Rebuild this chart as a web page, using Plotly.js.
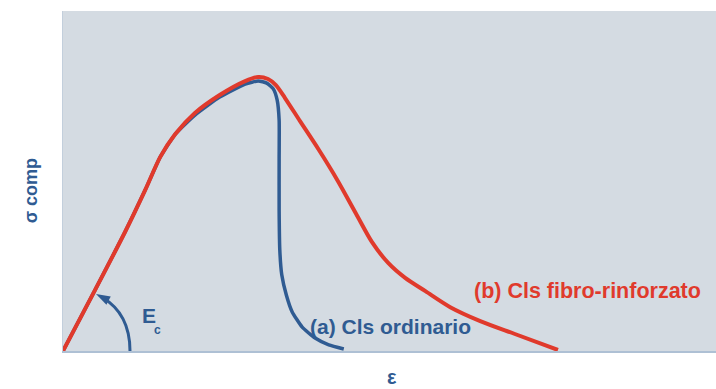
<!DOCTYPE html>
<html>
<head>
<meta charset="utf-8">
<script src="https://cdn.plot.ly/plotly-3.0.1.min.js"></script>
<style>
  html, body { margin: 0; padding: 0; background: #ffffff; }
  #chart { width: 716px; height: 389px; }
</style>
</head>
<body>
<div id="chart"></div>
<script>
// Compressive stress-strain curves (normalised units, 0-100 on both axes)

// (b) fibre-reinforced concrete
const fibreStrain = [0, 4.9, 9.5, 12.6, 14.9, 17.2, 20.2, 24.0, 27.9, 29.9, 31.4, 32.6, 34.0, 36.3, 39.1, 42.0, 44.9, 47.3, 49.8, 52.4, 55.5, 59.3, 63.9, 69.2, 75.8];
const fibreStress = [0, 17.9, 35.0, 47.4, 57.1, 63.8, 70.0, 75.3, 79.4, 80.6, 80.0, 78.2, 74.4, 67.6, 59.4, 50.3, 40.3, 32.1, 25.9, 21.5, 17.6, 12.9, 8.8, 5.0, 0.3];

// (a) ordinary concrete
const plainStrain = [0, 4.9, 9.5, 12.6, 14.9, 17.2, 20.2, 24.0, 27.9, 29.9, 31.2, 32.2, 32.8, 33.1, 33.1, 33.1, 33.2, 33.5, 34.2, 35.1, 36.6, 38.6, 40.7, 43.0];
const plainStress = [0, 17.9, 35.0, 47.4, 57.1, 63.8, 69.4, 74.7, 78.5, 79.4, 78.8, 77.1, 73.8, 67.9, 56.2, 41.5, 29.7, 22.4, 16.5, 11.5, 7.1, 3.8, 1.8, 0.6];

// Elastic modulus marker: arc from the strain axis up to the initial tangent
const modulusArcStart = [10.26, 0];
const modulusArcCtrl = [10.26, 11.0];
const modulusArcEnd = [5.05, 16.8];

const axisTitles = { x: 'ε', y: 'σ comp' };
const seriesLabels = { plain: '(a) Cls ordinario', fibre: '(b) Cls fibro-rinforzato' };
const modulusSymbol = 'E';
const modulusIndex = 'c';

const BLUE = '#2f5b92';
const RED = '#e03a2c';
const FONT = 'Liberation Sans, Arial, sans-serif';

const traces = [
  {
    x: plainStrain, y: plainStress, mode: 'lines',
    line: { color: BLUE, width: 3.5, shape: 'spline', smoothing: 0.5 },
    hoverinfo: 'skip', showlegend: false
  },
  {
    x: fibreStrain, y: fibreStress, mode: 'lines',
    line: { color: RED, width: 4, shape: 'spline', smoothing: 0.8 },
    hoverinfo: 'skip', showlegend: false
  },
  {
    // arrowhead at the end of the modulus arc
    x: [modulusArcEnd[0]], y: [modulusArcEnd[1]], mode: 'markers',
    marker: { symbol: 'arrow', size: 15, angle: -62, color: BLUE, line: { width: 0 } },
    hoverinfo: 'skip', showlegend: false
  }
];

const layout = {
  width: 716, height: 389,
  margin: { l: 63, r: 0, t: 11, b: 38, pad: 0 },
  paper_bgcolor: '#ffffff',
  plot_bgcolor: '#d4dbe2',
  font: { family: FONT, color: BLUE },
  xaxis: {
    range: [0, 100], showgrid: false, zeroline: false, showticklabels: false, ticks: '',
    showline: true, linecolor: '#aec0d4', linewidth: 1.5
  },
  yaxis: {
    range: [0, 100], showgrid: false, zeroline: false, showticklabels: false, ticks: '',
    showline: true, linecolor: '#c3cfdc', linewidth: 1
  },
  shapes: [
    {
      type: 'path', xref: 'x', yref: 'y',
      path: `M ${modulusArcStart[0]},${modulusArcStart[1]} Q ${modulusArcCtrl[0]},${modulusArcCtrl[1]} ${modulusArcEnd[0] + 0.9},${modulusArcEnd[1] - 1.0}`,
      line: { color: BLUE, width: 3 }
    }
  ],
  annotations: [
    {
      x: 11.8, y: 10.4, xref: 'x', yref: 'y', xanchor: 'left', yanchor: 'middle',
      text: modulusSymbol, showarrow: false,
      font: { family: FONT, size: 21, color: BLUE, weight: 'bold' }
    },
    {
      x: 13.6, y: 6.1, xref: 'x', yref: 'y', xanchor: 'left', yanchor: 'middle',
      text: modulusIndex, showarrow: false,
      font: { family: FONT, size: 12, color: BLUE, weight: 'bold' }
    },
    {
      x: 37.5, y: 7.35, xref: 'x', yref: 'y', xanchor: 'left', yanchor: 'middle',
      text: seriesLabels.plain, showarrow: false,
      font: { family: FONT, size: 21, color: BLUE, weight: 'bold' }
    },
    {
      x: 62.7, y: 17.6, xref: 'x', yref: 'y', xanchor: 'left', yanchor: 'middle',
      text: seriesLabels.fibre, showarrow: false,
      font: { family: FONT, size: 21.5, color: RED, weight: 'bold' }
    },
    {
      x: 0.504, y: -0.0765, xref: 'paper', yref: 'paper', xanchor: 'center', yanchor: 'middle',
      text: axisTitles.x, showarrow: false,
      font: { family: FONT, size: 20, color: BLUE, weight: 'bold' }
    },
    {
      x: -0.049, y: 0.47, xref: 'paper', yref: 'paper', xanchor: 'center', yanchor: 'middle',
      text: axisTitles.y, showarrow: false, textangle: -90,
      font: { family: FONT, size: 18, color: BLUE, weight: 'bold' }
    }
  ]
};

Plotly.newPlot('chart', traces, layout, { staticPlot: true, displayModeBar: false });
</script>
</body>
</html>
